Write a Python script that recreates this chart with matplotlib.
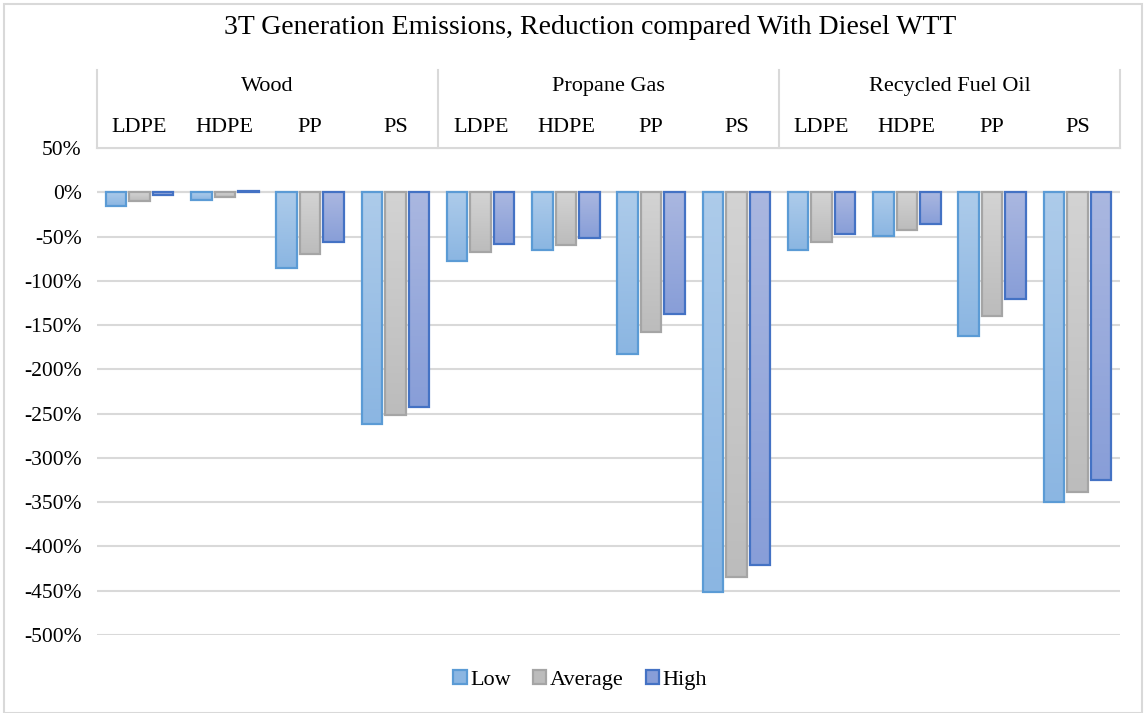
import numpy as np
import matplotlib.pyplot as plt
from matplotlib.colors import LinearSegmentedColormap
from matplotlib.patches import Rectangle

# ------------------------------------------------------------
# Data (% change vs diesel WTT)
# ------------------------------------------------------------
fuels = ["Wood", "Propane Gas", "Recycled Fuel Oil"]
plastics = ["LDPE", "HDPE", "PP", "PS"]
series = ["Low", "Average", "High"]

low = [-16, -9, -85, -262,
       -78, -65, -183, -451,
       -65, -49, -162, -350]
average = [-10, -5, -70, -252,
           -67, -59, -158, -435,
           -56, -43, -140, -338]
high = [-3, 2, -56, -242,
        -58, -52, -138, -421,
        -47, -36, -120, -325]

# ------------------------------------------------------------
# Style: (light top, darker bottom, edge)
# ------------------------------------------------------------
plt.rcParams["font.family"] = ["Liberation Serif", "DejaVu Serif"]
face = {"Low": ("#ADCBEA", "#8BB6E2", "#5B9BD5"),
        "Average": ("#D3D3D3", "#BCBCBC", "#A5A5A5"),
        "High": ("#AAB7E0", "#889ED8", "#4472C4")}

fig = plt.figure(figsize=(11.46, 7.13), dpi=100)
ax = fig.add_axes([97 / 1146, 78 / 713, 1023 / 1146, 487 / 713])

x = np.arange(len(low))
w = 0.24
step = 0.275
for i, (name, vals) in enumerate(zip(series, [low, average, high])):
    c_top, c_bot, ec = face[name]
    cmap = LinearSegmentedColormap.from_list(name, [c_top, c_bot])
    bars = ax.bar(x + (i - 1) * step, vals, width=w, facecolor="none",
                  edgecolor=ec, linewidth=1.6, label=name, zorder=4)
    # gradient fill inside each bar
    for b in bars:
        x0, y0 = b.get_x(), b.get_y()
        x1, y1 = x0 + b.get_width(), y0 + b.get_height()
        grad = np.linspace(0, 1, 64).reshape(-1, 1)
        im = ax.imshow(grad, cmap=cmap, aspect="auto", origin="upper",
                       extent=[x0, x1, min(y0, y1), max(y0, y1)], zorder=3)
        im.set_clip_path(b)

ax.set_xlim(-0.5, len(low) - 0.5)
ax.set_ylim(-500, 50)
ax.set_yticks(np.arange(-500, 51, 50))
ax.set_yticklabels([f"{v}%" for v in range(-500, 51, 50)], fontsize=15.5)
ax.tick_params(axis="y", length=0, pad=11)
ax.set_xticks([])
ax.yaxis.grid(True, color="#D9D9D9", linewidth=1.5, zorder=0)
ax.axhline(0, color="#D9D9D9", linewidth=1.5, zorder=1)
for s in ax.spines.values():
    s.set_visible(False)

# category header above the plot (Excel style multi-level axis)
tr = ax.get_xaxis_transform()
top = 1.160
ax.plot([-0.5, len(low) - 0.5], [1.0, 1.0], transform=tr, color="#D9D9D9",
        linewidth=1.5, clip_on=False)
for bnd in [-0.5, 3.5, 7.5, 11.5]:
    ax.plot([bnd, bnd], [1.0, top], transform=tr, color="#D9D9D9",
            linewidth=1.5, clip_on=False)
for j, f in enumerate(fuels):
    ax.text(j * 4 + 1.5, 1.126, f, transform=tr, ha="center", va="center",
            fontsize=16)
    for k, p in enumerate(plastics):
        ax.text(j * 4 + k, 1.042, p, transform=tr, ha="center", va="center",
                fontsize=16)

fig.text(590 / 1146, 1 - 27 / 713,
         "3T Generation Emissions, Reduction compared With Diesel WTT",
         ha="center", va="center", fontsize=20)

# chart border
fig.patches.append(Rectangle((4 / 1146, 0), 1 - 8 / 1146, 1 - 4 / 713,
                             transform=fig.transFigure, fill=False,
                             edgecolor="#D9D9D9", linewidth=1.5))

handles = [Rectangle((0, 0), 1, 1, facecolor=face[n][1], edgecolor=face[n][2],
                     linewidth=1.6) for n in series]
fig.legend(handles, series, loc="center",
           bbox_to_anchor=(580 / 1146, 1 - 680 / 713),
           ncol=3, frameon=False, fontsize=16, handlelength=0.6,
           handleheight=0.6, handletextpad=0.15, columnspacing=1.0)

plt.savefig("out.png", dpi=100)
